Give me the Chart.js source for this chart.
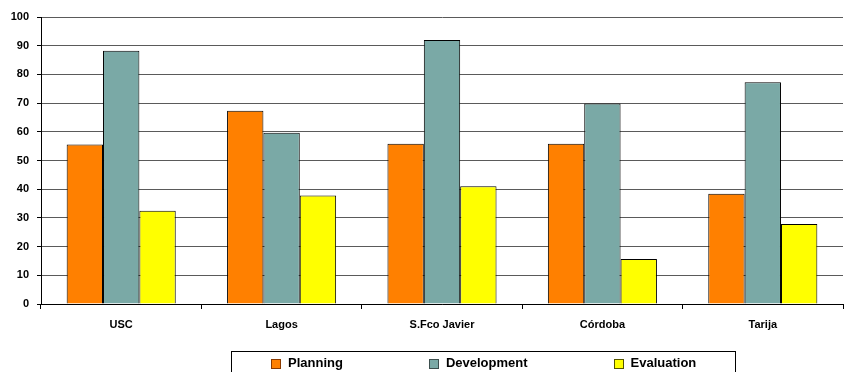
<!DOCTYPE html>
<html>
<head>
<meta charset="utf-8">
<script src="https://cdn.jsdelivr.net/npm/chart.js@4/dist/chart.umd.min.js"></script>
<style>
    html, body { margin: 0; padding: 0; background: #fff; }
    #wrap { position: relative; width: 845px; height: 372px; overflow: hidden; }
    #legendBox {
        position: absolute; left: 231px; top: 351px; width: 505px; height: 40px;
        border: 1px solid #000; box-sizing: border-box;
        display: flex; align-items: flex-start; gap: 86px; padding: 3px 0 0 39px;
        font: bold 13px "Liberation Sans", Arial, sans-serif; color: #000;
    }
    .item { display: flex; align-items: center; white-space: nowrap; }
    .swatch { width: 8px; height: 8px; border: 1px solid #333; margin: 2px 7px 0 0; }
</style>
</head>
<body>
<div id="wrap">
    <canvas id="chart" width="845" height="372"></canvas>
    <div id="legendBox"></div>
</div>
<script>
const sites = ['USC', 'Lagos', 'S.Fco Javier', 'Córdoba', 'Tarija'];
const planning = [55.6, 67.3, 55.8, 55.8, 38.4];
const development = [88.2, 59.7, 92.0, 69.9, 77.3];
const evaluation = [32.5, 37.8, 41.0, 15.7, 27.9];
const seriesNames = ['Planning', 'Development', 'Evaluation'];
const seriesColors = ['#FF8000', '#7AA9A6', '#FFFF00'];
const swatchBorders = ['#8a3a00', '#3c4f4e', '#555500'];

const tickFont = { family: '"Liberation Sans", Arial, sans-serif', size: 11, weight: 'bold' };

function makeSet(i, values) {
    return {
        label: seriesNames[i],
        data: values,
        backgroundColor: seriesColors[i],
        borderColor: '#000',
        borderWidth: 1,
        barPercentage: 1,
        categoryPercentage: 0.68
    };
}

new Chart(document.getElementById('chart'), {
    type: 'bar',
    data: {
        labels: sites,
        datasets: [makeSet(0, planning), makeSet(1, development), makeSet(2, evaluation)]
    },
    options: {
        responsive: false,
        animation: false,
        layout: { padding: { top: 17, right: 2, left: 0, bottom: 0 } },
        plugins: { legend: { display: false }, tooltip: { enabled: false } },
        scales: {
            x: {
                grid: { drawOnChartArea: false, drawTicks: true, tickLength: 5, tickColor: '#000', offset: true },
                border: { color: '#000', width: 1 },
                ticks: { color: '#000', font: tickFont, padding: 9, maxRotation: 0 },
                afterFit: (s) => { s.height = 68; }
            },
            y: {
                min: 0,
                max: 100,
                grid: { color: '#5a5a5a', tickLength: 4, tickColor: '#000' },
                border: { color: '#000', width: 1 },
                ticks: { stepSize: 10, color: '#000', font: tickFont, padding: 8 },
                afterFit: (s) => { s.width = 41; }
            }
        }
    }
});

// Boxed legend under the plot
const box = document.getElementById('legendBox');
seriesNames.forEach((name, i) => {
    const item = document.createElement('div');
    item.className = 'item';
    const sw = document.createElement('span');
    sw.className = 'swatch';
    sw.style.background = seriesColors[i];
    sw.style.borderColor = swatchBorders[i];
    item.appendChild(sw);
    item.appendChild(document.createTextNode(name));
    box.appendChild(item);
});
</script>
</body>
</html>
